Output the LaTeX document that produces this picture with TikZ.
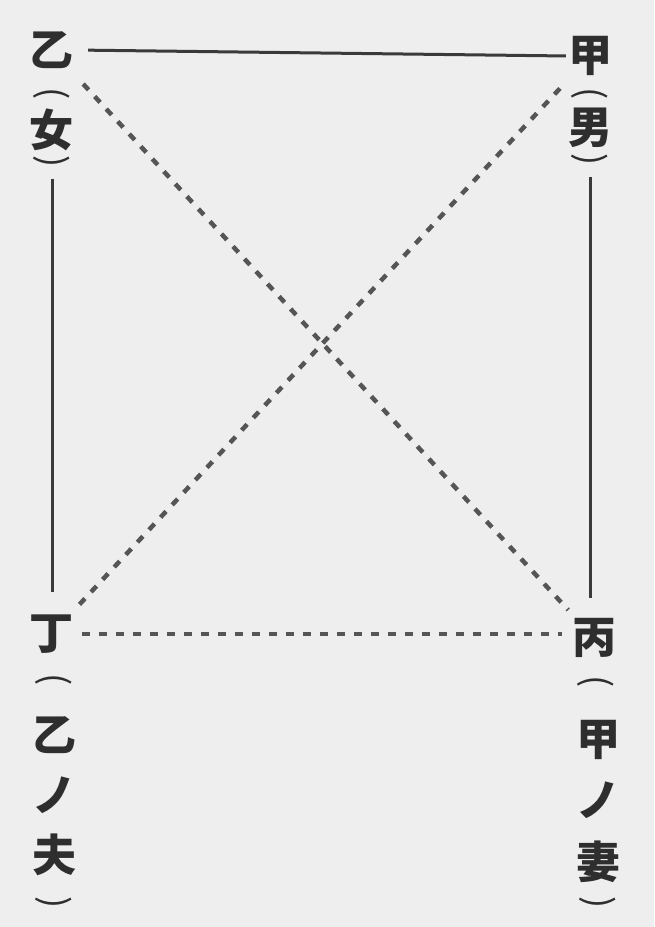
\documentclass[tikz,border=0pt]{standalone}
\usepackage{fontspec}
\usepackage{graphicx}
\newfontfamily\jp{Noto Sans CJK JP}
\definecolor{bgc}{HTML}{EEEEEE}
\definecolor{ink}{HTML}{2E2E2E}
\definecolor{lnc}{HTML}{3A3A3A}
\definecolor{dsc}{HTML}{555555}
\newcommand{\vlp}{\rotatebox[origin=c]{-90}{(}}
\newcommand{\vrp}{\rotatebox[origin=c]{-90}{)}}
\tikzset{
  ch/.style={inner sep=0pt, minimum size=44pt, text=ink, font=\jp\bfseries\fontsize{44}{44}\selectfont},
  pr/.style={inner sep=0pt, minimum width=44pt, minimum height=14pt, text=ink, font=\jp\fontsize{36}{36}\selectfont},
  solidline/.style={draw=lnc, line width=3pt},
  dotline/.style={draw=dsc, line width=4.5pt, dash pattern=on 8pt off 9pt}
}
\begin{document}
\begin{tikzpicture}[x=1pt,y=-1pt]
\fill[bgc] (0,0) rectangle (654,927);
\useasboundingbox (0,0) rectangle (654,927);
% top-left
\node[ch] (yi) at (52,50) {乙};
\node[pr] (yiL) at (52,96) {\vlp};
\node[ch] (nv) at (52,130) {女};
\node[pr] (yiR) at (52,164) {\vrp};
% top-right
\node[ch] (jia) at (590,56) {甲};
\node[pr] (jiaL) at (590,96) {\vlp};
\node[ch] (nan) at (590,128) {男};
\node[pr] (jiaR) at (590,162) {\vrp};
% bottom-left
\node[ch] (ding) at (52,634) {丁};
\node[pr] (dingL) at (54,682) {\vlp};
\node[ch] (d1) at (54,735) {乙};
\node[ch] (d2) at (54,795) {ノ};
\node[ch] (d3) at (54,855) {夫};
\node[pr] (dingR) at (54,905) {\vrp};
% bottom-right
\node[ch] (bing) at (594,638) {丙};
\node[pr] (bingL) at (596,684) {\vlp};
\node[ch] (b1) at (598,740) {甲};
\node[ch] (b2) at (598,800) {ノ};
\node[ch] (b3) at (598,862) {妻};
\node[pr] (bingR) at (598,905) {\vrp};
% connectors
\draw[solidline, shorten <=14pt, shorten >=2pt] (yi.east) -- (jia.west);
\draw[solidline, shorten <=6pt, shorten >=20pt] (yiR.south) -- (ding.north -| yiR.south);
\draw[solidline, shorten <=6pt, shorten >=18pt] (jiaR.south) -- (bing.north -| jiaR.south);
\draw[dotline, shorten <=16pt, shorten >=8pt] (yi) -- (bing);
\draw[dotline, shorten <=14pt, shorten >=10pt] (jia) -- (ding);
\draw[dotline, shorten <=8pt, shorten >=10pt] (ding.east) -- (ding.east -| bing.west);
\end{tikzpicture}
\end{document}
